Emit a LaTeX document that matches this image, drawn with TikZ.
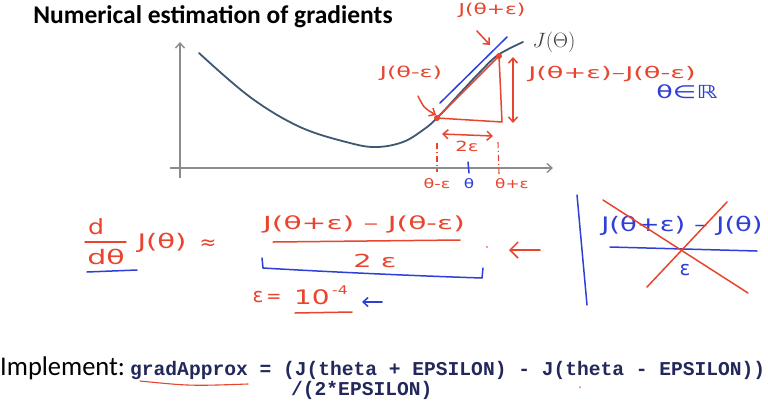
\documentclass[tikz,border=0pt]{standalone}
\usepackage{fontspec}
\usetikzlibrary{arrows.meta}
\newfontfamily\titlefont{Carlito}
\newfontfamily\hand{DejaVu Sans}
\newfontfamily\codefont{Liberation Mono}
\newcommand\hsz[1]{\hand\fontsize{#1}{#1}\selectfont}
\definecolor{hred}{HTML}{E8442E}
\definecolor{hblue}{HTML}{2E3FD6}
\definecolor{curvecol}{HTML}{3E5873}
\definecolor{axisgray}{HTML}{8C8C8C}
\definecolor{codeblue}{HTML}{22295A}
\begin{document}
\begin{tikzpicture}[x=1pt,y=-1pt,
  hr/.style={inner sep=0, text=hred},
  hb/.style={inner sep=0, text=hblue},
  rline/.style={draw=hred, line width=1.5pt, line cap=round, line join=round},
  bline/.style={draw=hblue, line width=1.5pt, line cap=round, line join=round},
  barb/.style={-{Straight Barb[length=5pt,width=9pt]}},
  dbarb/.style={{Straight Barb[length=5pt,width=9pt]}-{Straight Barb[length=5pt,width=9pt]}},
  axis/.style={draw=axisgray, line width=1.4pt, -{Straight Barb[length=5pt,width=9pt]}},
  code/.style={inner sep=0, text=codeblue, font=\codefont\bfseries\fontsize{19.6}{19.6}\selectfont, anchor=base west}]
\useasboundingbox[fill=white] (0,0) rectangle (768,400);

% title
\node[inner sep=0, font=\titlefont\bfseries\fontsize{25.5}{25.5}\selectfont] (title) at (213,17) {Numerical estimation of gradients};

% axes
\coordinate (yb) at (180,178); \coordinate (yt) at (180,42);
\coordinate (xl) at (170,168); \coordinate (xr) at (553,168);
\draw[axis] (yb) -- (yt);
\draw[axis] (xl) -- (xr);

% curve J
\draw[draw=curvecol, line width=1.8pt, line cap=round] plot[smooth, tension=0.6] coordinates {(199,53) (250,97) (300,127) (350,143) (377,147) (403,142) (423,130) (437,118) (463,90) (480,72) (498,55) (523,42)};
\node[inner sep=0, text=black!75, font=\fontsize{20}{20}\selectfont] (JT) at (554,42) {$J(\Theta)$};

% points and triangle
\coordinate (pm) at (437,118);
\coordinate (pp) at (499,56);
\coordinate (pc) at (502,122);
\draw[bline] (440,103) -- (507,37);
\draw[rline] (pm) -- (pp) -- (pc) -- (pm);
\fill[hred] (pm) circle (3);
\fill[hred] (pp) circle (3);

% labels on the graph
\node[hr, font=\hsz{15}, xscale=1.45] (Jp) at (492,10) {J(θ+ε)};
\draw[rline, barb] (477,31) -- (490,45);
\node[hr, font=\hsz{15}, xscale=1.6] (Jm) at (411,73) {J(θ-ε)};
\draw[rline, barb] (418,96) .. controls (424,108) .. (436,115);
\draw[rline, dbarb] (513,57) -- (513,123);
\node[hr, font=\hsz{16}, xscale=1.7] (Jd) at (612,74) {J(θ+ε)–J(θ-ε)};
\node[hb, font=\hsz{18}, xscale=1.5] (thR) at (687,92) {θ∈ℝ};
\draw[rline, dbarb] (442,134) -- (493,136);
\node[hr, font=\hsz{14}, xscale=1.4] (te) at (467,146) {2ε};

% dashed guides and tick
\draw[draw=hred, line width=1.1pt, dash pattern=on 6pt off 3pt on 1pt off 3pt] (437,143) -- (437,172);
\draw[draw=hred, line width=1.1pt, dash pattern=on 6pt off 3pt on 1pt off 3pt] (498,142) -- (499,174);
\draw[bline] (468,162) -- (469,173);
\node[hr, font=\hsz{13}, xscale=1.35] (tm) at (437,184) {θ-ε};
\node[hb, font=\hsz{13}, xscale=1.3] (t0) at (469,184) {θ};
\node[hr, font=\hsz{13}, xscale=1.3] (tp) at (512,184) {θ+ε};

% derivative
\node[hr, font=\hsz{21}, xscale=1.2] (d1) at (96,227) {d};
\draw[rline] (85,242) -- (126,242);
\node[hr, font=\hsz{20}, xscale=1.5] (d2) at (106,257) {dθ};
\draw[bline] (87,272) -- (137,270);
\node[hr, font=\hsz{20}, xscale=1.45] (Jt) at (162,243) {J(θ)};
\node[hr, font=\hsz{20}] (ap) at (208,245) {≈};
\node[hr, font=\hsz{18}, xscale=1.65] (num) at (364,224) {J(θ+ε) – J(θ-ε)};
\draw[rline] (273,242) -- (460,240);
\node[hr, font=\hsz{18}, xscale=1.6] (den) at (375,261) {2 ε};
\draw[bline] (262,258) -- (263,268) .. controls (330,272) and (420,276) .. (482,278) -- (483,268);
\fill[hred!70] (487,247) circle (1.2);
\draw[rline, -{Straight Barb[length=8pt,width=16pt]}] (540,250) -- (509,250);

% epsilon value
\node[hr, font=\hsz{20}] (eps) at (258,297) {ε};
\node[hr, font=\hsz{18}] (eq) at (274,298) {=};
\node[hr, font=\hsz{20}, xscale=1.4] (ten) at (312,297) {10};
\node[hr, font=\hsz{12}, xscale=1.3] (m4) at (340,290) {-4};
\draw[rline] (295,313) -- (352,312);
\draw[bline, barb] (382,302) -- (362,302);

% right: crossed one-sided difference
\draw[bline] (577,195) .. controls (582,250) .. (587,305);
\node[hb, font=\hsz{20}, xscale=1.37] (onum) at (682,226) {J(θ+ε) – J(θ)};
\draw[bline] (610,247) -- (757,251);
\node[hb, font=\hsz{20}] (oden) at (685,270) {ε};
\draw[rline] (603,200) -- (748,293);
\draw[rline] (647,287) -- (727,202);

% implement line
\node[inner sep=0, anchor=base west, font=\titlefont\fontsize{27}{27}\selectfont, xscale=0.98] (impl) at (0,375) {Implement:};
\node[code] (c1) at (130,375) {gradApprox = (J(theta + EPSILON) - J(theta - EPSILON))};
\node[code] (c2) at (291,395) {/(2*EPSILON)};
\draw[draw=hred, line width=1.1pt, line cap=round] (140,381) .. controls (190,386) .. (248,384);
\fill[hred!80] (580,387) circle (1);
\end{tikzpicture}
\end{document}
